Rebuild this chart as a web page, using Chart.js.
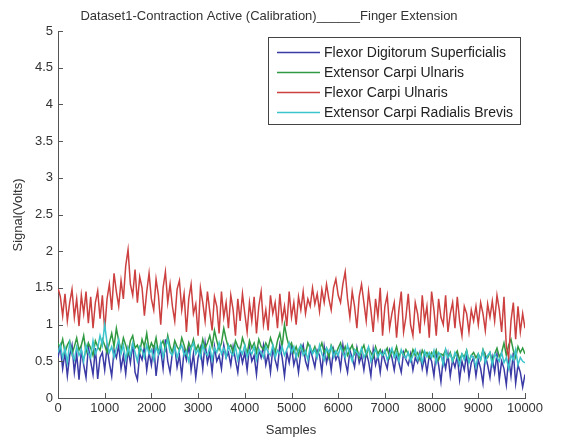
<!DOCTYPE html>
<html>
<head>
<meta charset="utf-8">
<script src="https://cdn.jsdelivr.net/npm/chart.js@4/dist/chart.umd.min.js"></script>
<style>
  html, body { margin: 0; padding: 0; background: #fff; }
  #wrap { width: 566px; height: 440px; }
</style>
</head>
<body>
<div id="wrap"><canvas id="emg"></canvas></div>
<script>
// ================= DATA =================
const chartTitle = "Dataset1-Contraction Active (Calibration)______Finger Extension";
const xTitle = "Samples";
const yTitle = "Signal(Volts)";
const muscles = [
  "Flexor Digitorum Superficialis",
  "Extensor Carpi Ulnaris",
  "Flexor Carpi Ulnaris",
  "Extensor Carpi Radialis Brevis"
];
const colors = ["#3a3aa6", "#2f9a42", "#cc4040", "#3cc4cc"];

// one reading every 50 samples, 0..10000
const samples = Array.from({ length: 201 }, (_, i) => i * 50);

const fds = [
  0.55,0.70,0.40,0.62,0.30,0.58,0.72,0.35,0.60,0.25,
  0.65,0.45,0.28,0.70,0.50,0.32,0.68,0.26,0.55,0.62,
  0.38,0.70,0.48,0.30,0.65,0.55,0.72,0.40,0.58,0.33,
  0.66,0.48,0.75,0.35,0.25,0.60,0.52,0.70,0.38,0.62,
  0.45,0.72,0.30,0.58,0.66,0.40,0.80,0.50,0.35,0.62,
  0.70,0.42,0.58,0.30,0.65,0.52,0.72,0.38,0.60,0.28,
  0.55,0.68,0.40,0.75,0.48,0.62,0.35,0.70,0.50,0.58,
  0.40,0.72,0.55,0.62,0.45,0.70,0.52,0.35,0.65,0.48,
  0.62,0.38,0.70,0.50,0.58,0.32,0.66,0.55,0.72,0.45,
  0.60,0.35,0.68,0.52,0.40,0.72,0.55,0.30,0.62,0.48,
  0.70,0.45,0.58,0.35,0.62,0.72,0.50,0.40,0.68,0.55,
  0.42,0.65,0.58,0.35,0.70,0.48,0.62,0.38,0.66,0.52,
  0.60,0.40,0.72,0.50,0.35,0.65,0.55,0.42,0.68,0.48,
  0.58,0.38,0.62,0.50,0.30,0.66,0.45,0.58,0.35,0.62,
  0.50,0.40,0.65,0.55,0.38,0.60,0.48,0.35,0.62,0.52,
  0.45,0.60,0.38,0.55,0.48,0.62,0.40,0.56,0.35,0.58,
  0.50,0.30,0.62,0.45,0.22,0.55,0.40,0.60,0.30,0.52,
  0.42,0.58,0.25,0.50,0.38,0.60,0.28,0.48,0.55,0.30,
  0.52,0.40,0.20,0.58,0.45,0.28,0.55,0.35,0.60,0.25,
  0.50,0.40,0.18,0.55,0.30,0.62,0.20,0.45,0.35,0.15,
  0.32
];

const ecu = [
  0.75,0.68,0.80,0.62,0.72,0.78,0.60,0.70,0.82,0.65,
  0.72,0.85,0.62,0.75,0.68,0.58,0.78,0.70,0.65,0.80,
  0.72,0.62,0.75,0.88,0.70,0.95,0.78,0.65,0.82,0.72,
  0.60,0.78,0.85,0.68,0.72,0.62,0.80,0.70,0.88,0.65,
  0.75,0.68,0.82,0.62,0.72,0.78,0.66,0.85,0.70,0.62,
  0.78,0.70,0.65,0.82,0.72,0.60,0.75,0.68,0.80,0.65,
  0.72,0.62,0.80,0.68,0.75,0.85,0.70,0.92,0.78,0.66,
  0.75,0.95,0.80,0.68,0.72,0.62,0.78,0.70,0.65,0.82,
  0.72,0.60,0.78,0.68,0.75,0.62,0.80,0.70,0.66,0.75,
  0.68,0.82,0.72,0.62,0.78,0.88,0.70,1.00,0.82,0.70,
  0.75,0.62,0.70,0.58,0.72,0.66,0.60,0.75,0.68,0.62,
  0.70,0.58,0.66,0.75,0.62,0.68,0.55,0.72,0.65,0.60,
  0.68,0.75,0.62,0.70,0.58,0.66,0.72,0.60,0.68,0.55,
  0.65,0.72,0.58,0.68,0.62,0.55,0.70,0.60,0.66,0.58,
  0.62,0.68,0.55,0.65,0.60,0.70,0.56,0.64,0.58,0.66,
  0.60,0.55,0.66,0.58,0.62,0.52,0.65,0.58,0.62,0.55,
  0.62,0.56,0.65,0.52,0.60,0.58,0.66,0.55,0.62,0.50,
  0.58,0.64,0.52,0.60,0.56,0.65,0.50,0.58,0.62,0.55,
  0.60,0.52,0.66,0.58,0.55,0.62,0.50,0.60,0.68,0.56,
  0.62,0.75,0.58,0.72,0.80,0.65,0.55,0.70,0.62,0.68,
  0.60
];

const fcu = [
  1.50,1.38,1.12,1.42,1.05,1.30,1.48,1.10,1.35,0.98,
  1.40,1.15,1.45,1.02,1.38,0.95,1.30,1.46,1.08,1.40,
  0.92,1.35,1.55,1.20,1.70,1.45,1.25,1.60,1.35,1.80,
  2.02,1.55,1.40,1.75,1.30,1.65,1.50,1.12,1.45,1.70,
  1.35,1.20,1.62,1.40,1.00,1.50,1.72,1.30,1.55,1.25,
  1.05,1.48,1.60,1.20,1.42,0.90,1.35,1.55,1.15,1.28,
  0.85,1.50,1.30,1.05,1.45,1.18,0.92,1.38,1.25,0.88,
  1.45,1.10,1.30,0.95,1.40,1.20,0.85,1.35,1.05,1.42,
  1.15,0.90,1.30,1.05,1.38,0.88,1.25,1.45,1.00,1.20,
  0.92,1.40,1.15,1.30,0.95,1.42,1.05,1.25,0.98,1.45,
  1.10,1.30,1.00,1.38,1.20,1.45,1.15,1.35,1.25,1.50,
  1.28,1.42,1.18,1.48,1.30,1.55,1.35,1.20,1.50,1.62,
  1.40,1.30,1.55,1.72,1.35,1.10,1.45,1.25,0.95,1.38,
  1.55,1.30,1.05,1.45,1.20,0.90,1.35,1.10,1.50,0.85,
  1.25,1.40,0.95,1.15,1.30,0.82,1.20,1.45,0.90,1.10,
  1.42,1.00,0.85,1.30,1.15,0.88,1.40,1.05,1.25,0.82,
  1.45,1.20,0.85,1.35,1.10,1.00,1.40,0.90,1.15,1.30,
  0.95,1.38,1.05,0.85,1.25,1.15,0.90,1.20,1.05,1.25,
  1.00,1.30,1.15,0.92,1.28,1.10,1.32,1.05,1.40,1.20,
  0.90,1.38,0.70,0.55,1.05,1.30,0.80,1.25,0.90,1.15,
  0.95
];

const ecrb = [
  0.62,0.72,0.55,0.68,0.48,0.75,0.60,0.52,0.70,0.58,
  0.66,0.50,0.72,0.62,0.55,0.78,0.60,0.68,0.85,0.72,
  1.00,0.75,0.62,0.70,0.55,0.68,0.80,0.60,0.72,0.52,
  0.68,0.58,0.75,0.62,0.50,0.70,0.65,0.55,0.72,0.60,
  0.66,0.52,0.70,0.60,0.75,0.55,0.68,0.80,0.62,0.58,
  0.70,0.55,0.66,0.72,0.58,0.64,0.50,0.68,0.75,0.60,
  0.66,0.55,0.72,0.62,0.58,0.70,0.52,0.68,0.62,0.75,
  0.60,0.68,0.55,0.72,0.62,0.58,0.70,0.52,0.66,0.60,
  0.72,0.56,0.65,0.60,0.70,0.52,0.66,0.62,0.55,0.70,
  0.62,0.58,0.72,0.55,0.65,0.60,0.70,0.58,0.66,0.75,
  0.62,0.70,0.55,0.66,0.72,0.58,0.64,0.52,0.70,0.60,
  0.66,0.55,0.72,0.60,0.52,0.68,0.62,0.70,0.56,0.64,
  0.58,0.70,0.62,0.55,0.72,0.60,0.50,0.66,0.62,0.58,
  0.68,0.55,0.62,0.70,0.50,0.60,0.66,0.55,0.62,0.58,
  0.65,0.52,0.60,0.68,0.55,0.62,0.50,0.66,0.58,0.54,
  0.62,0.50,0.58,0.66,0.52,0.60,0.48,0.64,0.56,0.62,
  0.55,0.65,0.48,0.62,0.58,0.45,0.66,0.55,0.60,0.50,
  0.62,0.55,0.45,0.60,0.52,0.64,0.48,0.58,0.55,0.42,
  0.60,0.52,0.65,0.48,0.58,0.62,0.45,0.60,0.55,0.50,
  0.62,0.48,0.55,0.40,0.58,0.52,0.66,0.45,0.55,0.50,
  0.48
];

const series = [fds, ecu, fcu, ecrb];
// matlab draws later lines on top; lower "order" = drawn last
const drawOrder = [4, 3, 2, 1];

// ================= PLUGIN: matlab-ish frame, title, legend =================
const FAMILY = '"Liberation Sans", Arial, sans-serif';

const matlabDecor = {
  id: "matlabDecor",
  afterDraw(chart) {
    const { ctx, chartArea: a, scales: { x, y } } = chart;
    ctx.save();

    // inward ticks
    ctx.strokeStyle = "#555";
    ctx.lineWidth = 1;
    ctx.beginPath();
    x.ticks.forEach(t => {
      const px = Math.round(x.getPixelForValue(t.value)) + 0.5;
      ctx.moveTo(px, a.bottom);
      ctx.lineTo(px, a.bottom - 5);
    });
    y.ticks.forEach(t => {
      const py = Math.round(y.getPixelForValue(t.value)) + 0.5;
      ctx.moveTo(a.left, py);
      ctx.lineTo(a.left + 5, py);
    });
    ctx.stroke();

    // texts
    ctx.fillStyle = "#333";
    ctx.font = "13px " + FAMILY;
    ctx.textAlign = "center";
    ctx.textBaseline = "middle";
    ctx.fillText(chartTitle, 269, 16);
    ctx.fillText(xTitle, 291, 430);
    ctx.save();
    ctx.translate(18, 215);
    ctx.rotate(-Math.PI / 2);
    ctx.fillText(yTitle, 0, 0);
    ctx.restore();

    // legend box
    const bx = 268.5, by = 37.5, bw = 252, bh = 87;
    ctx.fillStyle = "#fff";
    ctx.fillRect(bx, by, bw, bh);
    ctx.strokeStyle = "#444";
    ctx.strokeRect(bx, by, bw, bh);
    ctx.textAlign = "left";
    ctx.font = "14px " + FAMILY;
    muscles.forEach((m, i) => {
      const ry = 52 + i * 20;
      ctx.strokeStyle = colors[i];
      ctx.lineWidth = 1.3;
      ctx.beginPath();
      ctx.moveTo(277, ry + 0.5);
      ctx.lineTo(320, ry + 0.5);
      ctx.stroke();
      ctx.fillStyle = "#222";
      ctx.fillText(m, 324, ry + 1);
    });

    ctx.restore();
  }
};

// ================= CHART =================
const emgChart = new Chart(document.getElementById("emg"), {
  type: "line",
  data: {
    datasets: series.map((s, i) => ({
      label: muscles[i],
      data: s.map((v, k) => ({ x: samples[k], y: v })),
      borderColor: colors[i],
      borderWidth: 1.5,
      pointRadius: 0,
      tension: 0,
      fill: false,
      order: drawOrder[i]
    }))
  },
  options: {
    responsive: true,
    maintainAspectRatio: false,
    animation: false,
    layout: { padding: { top: 31, right: 41, left: 0, bottom: 0 } },
    plugins: {
      legend: { display: false },
      title: { display: false },
      tooltip: { enabled: false }
    },
    scales: {
      x: {
        type: "linear",
        min: 0,
        max: 10000,
        afterFit: s => { s.height = 42; },
        grid: { display: false, drawTicks: false },
        border: { display: true, color: "#555" },
        ticks: {
          stepSize: 1000,
          padding: 3,
          maxRotation: 0,
          color: "#333",
          font: { family: FAMILY, size: 13 },
          callback: v => String(v)
        }
      },
      y: {
        min: 0,
        max: 5,
        afterFit: s => { s.width = 58; },
        grid: { display: false, drawTicks: false },
        border: { display: true, color: "#555" },
        ticks: {
          stepSize: 0.5,
          padding: 5,
          color: "#333",
          font: { family: FAMILY, size: 13 },
          callback: v => String(v)
        }
      }
    }
  },
  plugins: [matlabDecor]
});
</script>
</body>
</html>
